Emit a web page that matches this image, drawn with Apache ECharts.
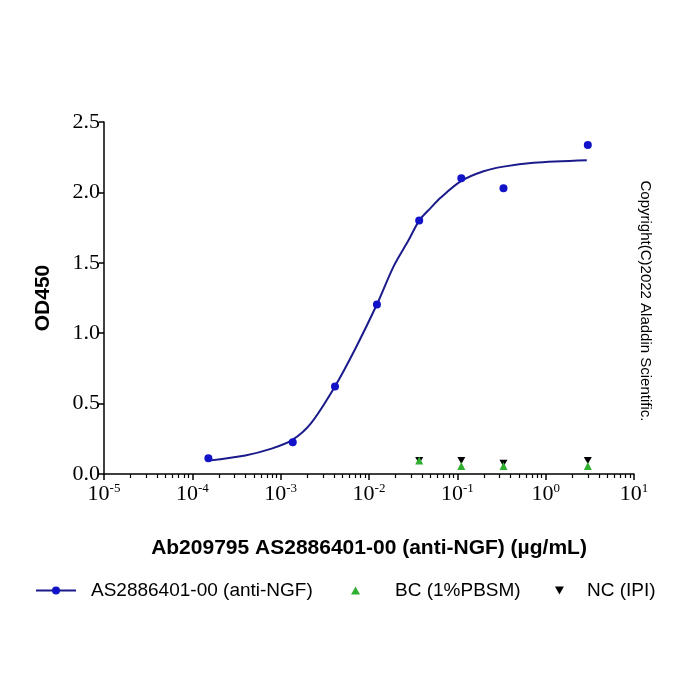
<!DOCTYPE html>
<html>
<head>
<meta charset="utf-8">
<script src="https://cdn.jsdelivr.net/npm/echarts@6/dist/echarts.min.js"></script>
<style>
  html, body { margin: 0; padding: 0; background: #fff; }
  #chart { width: 700px; height: 700px; }
</style>
</head>
<body>
<div id="chart"></div>
<script>
// concentrations in ug/mL
const sampleConc = [0.000152, 0.00137, 0.00412, 0.0123, 0.037, 0.111, 0.333, 3.0];
const sampleOD = [0.112, 0.226, 0.621, 1.203, 1.80, 2.10, 2.03, 2.336];

// fitted curve
const fitConc = [0.000152, 0.000398, 0.00079, 0.00134, 0.0022, 0.0041, 0.007, 0.0122, 0.019, 0.028, 0.037, 0.05, 0.064, 0.11, 0.198, 0.333, 0.73, 2.92];
const fitOD = [0.095, 0.132, 0.18, 0.24, 0.36, 0.62, 0.89, 1.20, 1.475, 1.66, 1.80, 1.89, 1.96, 2.08, 2.15, 2.183, 2.21, 2.228];

const ctrlConc = [0.037, 0.111, 0.333, 3.0];
const bcOD = [0.095, 0.057, 0.057, 0.057];
const ncOD = [0.095, 0.095, 0.076, 0.095];

const xMajorTicks = [1e-5, 1e-4, 1e-3, 1e-2, 1e-1, 1, 10];

const seriesNames = ['AS2886401-00 (anti-NGF)', 'BC (1%PBSM)', 'NC (IPI)'];

// minor ticks 2..9 inside each decade
const xMinorTicks = [];
xMajorTicks.slice(0, -1).forEach(d => {
  [2, 3, 4, 5, 6, 7, 8, 9].forEach(m => xMinorTicks.push(+(d * m).toPrecision(3)));
});

const pairs = (xs, ys) => xs.map((x, i) => [x, ys[i]]);

const downTriangle = 'path://M0,0 L10,0 L5,9 Z';

const chart = echarts.init(document.getElementById('chart'));

const serif = 'Liberation Serif';
const sans = 'Liberation Sans';

const option = {
  backgroundColor: '#fff',
  animation: false,
  grid: { left: 104, right: 66, top: 122, bottom: 226 },
  xAxis: [
    {
      type: 'log',
      logBase: 10,
      min: 1e-5,
      max: 10,
      name: 'Ab209795 AS2886401-00 (anti-NGF) (\u00b5g/mL)',
      nameLocation: 'middle',
      nameGap: 64,
      nameTextStyle: { fontFamily: sans, fontWeight: 'bold', fontSize: 21, color: '#000' },
      axisLine: { lineStyle: { color: '#000', width: 1.5 } },
      axisTick: { show: true, length: 6, lineStyle: { color: '#000', width: 1.5 } },
      splitLine: { show: false },
      axisLabel: {
        margin: 8,
        color: '#000',
        formatter: v => '{b|10}{s|' + Math.round(Math.log10(v)) + '}',
        rich: {
          b: { fontFamily: serif, fontSize: 22, lineHeight: 24, color: '#000' },
          s: { fontFamily: serif, fontSize: 13, lineHeight: 13, verticalAlign: 'top', color: '#000' }
        }
      }
    },
    {
      type: 'log',
      logBase: 10,
      min: 1e-5,
      max: 10,
      position: 'bottom',
      axisLine: { show: false },
      axisLabel: { show: false },
      splitLine: { show: false },
      axisTick: { show: true, length: 4, customValues: xMinorTicks, lineStyle: { color: '#000', width: 1.2 } }
    }
  ],
  yAxis: {
    type: 'value',
    min: 0,
    max: 2.5,
    interval: 0.5,
    name: 'OD450',
    nameLocation: 'middle',
    nameGap: 50,
    nameTextStyle: { fontFamily: sans, fontWeight: 'bold', fontSize: 21, color: '#000' },
    axisLine: { show: true, lineStyle: { color: '#000', width: 1.5 } },
    axisTick: { show: true, length: 5, lineStyle: { color: '#000', width: 1.5 } },
    splitLine: { show: false },
    axisLabel: {
      margin: 4,
      fontFamily: serif,
      fontSize: 22,
      color: '#000',
      formatter: v => v.toFixed(1)
    }
  },
  legend: [
    {
      data: [seriesNames[0]],
      left: 30,
      top: 576,
      itemWidth: 40,
      itemHeight: 10,
      textStyle: { fontFamily: sans, fontSize: 19, color: '#000', padding: [0, 0, 0, 10] }
    },
    {
      data: [seriesNames[1]],
      left: 346,
      top: 576,
      itemWidth: 9,
      itemHeight: 8,
      textStyle: { fontFamily: sans, fontSize: 19, color: '#000', padding: [0, 0, 0, 30] }
    },
    {
      data: [seriesNames[2]],
      left: 550,
      top: 576,
      itemWidth: 9,
      itemHeight: 8,
      textStyle: { fontFamily: sans, fontSize: 19, color: '#000', padding: [0, 0, 0, 18] }
    }
  ],
  graphic: [
    {
      type: 'text',
      x: 645,
      y: 301,
      rotation: -Math.PI / 2,
      style: {
        text: 'Copyright(C)2022 Aladdin Scientific.',
        font: '15px "Liberation Sans"',
        fill: '#000',
        align: 'center',
        verticalAlign: 'middle'
      }
    }
  ],
  series: [
    {
      name: seriesNames[0],
      type: 'line',
      data: pairs(fitConc, fitOD),
      smooth: 0.3,
      symbol: 'circle',
      symbolSize: 8,
      showSymbol: false,
      lineStyle: { color: '#1b1b8c', width: 2 },
      itemStyle: { color: '#1212c8' },
      z: 2
    },
    {
      name: seriesNames[0],
      type: 'scatter',
      data: pairs(sampleConc, sampleOD),
      symbol: 'circle',
      symbolSize: 8,
      itemStyle: { color: '#1212c8', opacity: 1 },
      z: 3
    },
    {
      name: seriesNames[2],
      type: 'scatter',
      data: pairs(ctrlConc, ncOD),
      symbol: downTriangle,
      symbolSize: [8, 7],
      itemStyle: { color: '#000', opacity: 1 },
      z: 3
    },
    {
      name: seriesNames[1],
      type: 'scatter',
      data: pairs(ctrlConc, bcOD),
      symbol: 'triangle',
      symbolSize: 8,
      itemStyle: { color: '#2fae2f', opacity: 1 },
      z: 4
    }
  ]
};

chart.setOption(option);
</script>
</body>
</html>
